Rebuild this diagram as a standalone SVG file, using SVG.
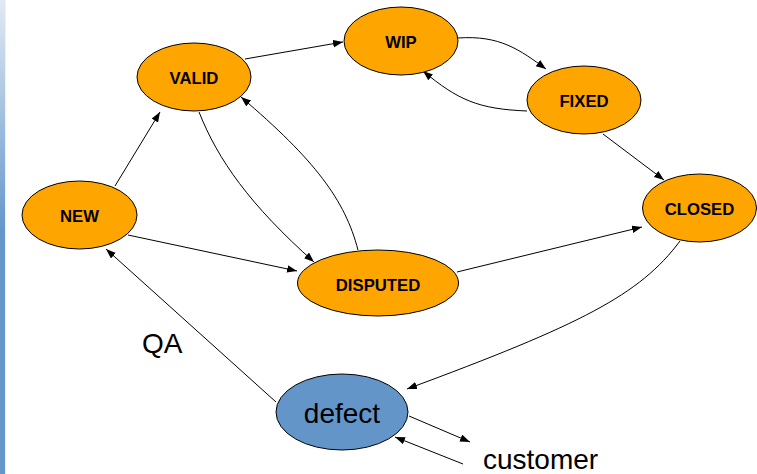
<svg xmlns="http://www.w3.org/2000/svg" width="757" height="474" viewBox="0 0 757 474">
  <defs>
    <linearGradient id="sideBar" x1="0" y1="0" x2="0" y2="1">
      <stop offset="0" stop-color="#e2eaf4"/>
      <stop offset="0.49" stop-color="#6396c9"/>
      <stop offset="1" stop-color="#6396c9"/>
    </linearGradient>
    <marker id="arrow" markerUnits="userSpaceOnUse" markerWidth="11" markerHeight="8" refX="10" refY="3.75" orient="auto">
      <path d="M0,0 L10,3.75 L0,7.5 z" fill="#000"/>
    </marker>
  </defs>
  <style>
    .state { fill: #ffa500; stroke: #000; stroke-width: 1; }
    .actor { fill: #6395c9; stroke: #000; stroke-width: 1; }
    .lbl { font-family: "Liberation Sans", Arial, sans-serif; font-weight: bold; font-size: 16.7px; fill: #000; text-anchor: middle; }
    .big { font-family: "Liberation Sans", Arial, sans-serif; font-size: 28px; fill: #000; }
    .edge { fill: none; stroke: #000; stroke-width: 1; marker-end: url(#arrow); }
  </style>

  <rect width="757" height="474" fill="#fff"/>
  <!-- slide side bar -->
  <rect x="0" y="0" width="5" height="474" fill="url(#sideBar)"/>
  <rect x="5" y="0" width="1" height="474" fill="#eef1f5"/>

  <g id="connectors">
    <path class="edge" d="M115,186 L160,112"/>
    <path class="edge" d="M245,59 L343,42"/>
    <path class="edge" d="M458,38 C500,35 520,50 546,69"/>
    <path class="edge" d="M527,111 C478,109 458,100 423,71"/>
    <path class="edge" d="M603,134 L664,180"/>
    <path class="edge" d="M457,272 L642,227"/>
    <path class="edge" d="M680,241 C640,295 580,325 407,389"/>
    <path class="edge" d="M199,112 C218,160 250,205 314,262"/>
    <path class="edge" d="M358,250 C345,200 315,160 241,97"/>
    <path class="edge" d="M128,235 L297,271"/>
    <path class="edge" d="M276,402 L106,249"/>
    <path class="edge" d="M409,416 L470,442"/>
    <path class="edge" d="M463,464 L395,437"/>
  </g>

  <g id="node-new">
    <ellipse class="state" cx="79.5" cy="215" rx="57.5" ry="34"/>
    <text class="lbl" x="79.5" y="222">NEW</text>
  </g>
  <g id="node-valid">
    <ellipse class="state" cx="194" cy="77" rx="57" ry="34"/>
    <text class="lbl" x="194" y="84">VALID</text>
  </g>
  <g id="node-wip">
    <ellipse class="state" cx="401" cy="41" rx="57" ry="34"/>
    <text class="lbl" x="401" y="48">WIP</text>
  </g>
  <g id="node-fixed">
    <ellipse class="state" cx="584" cy="100" rx="57" ry="34"/>
    <text class="lbl" x="584" y="107">FIXED</text>
  </g>
  <g id="node-closed">
    <ellipse class="state" cx="699.5" cy="208" rx="57" ry="34"/>
    <text class="lbl" x="699.5" y="215">CLOSED</text>
  </g>
  <g id="node-disputed">
    <ellipse class="state" cx="378" cy="283" rx="80.5" ry="33"/>
    <text class="lbl" x="378" y="291">DISPUTED</text>
  </g>
  <g id="node-defect">
    <ellipse class="actor" cx="342" cy="412" rx="66" ry="38"/>
    <text class="big" x="342" y="423" text-anchor="middle">defect</text>
  </g>

  <g id="labels">
    <text class="big" x="483" y="469" font-size="28.7">customer</text>
    <text class="big" x="142" y="353">QA</text>
  </g>
</svg>
